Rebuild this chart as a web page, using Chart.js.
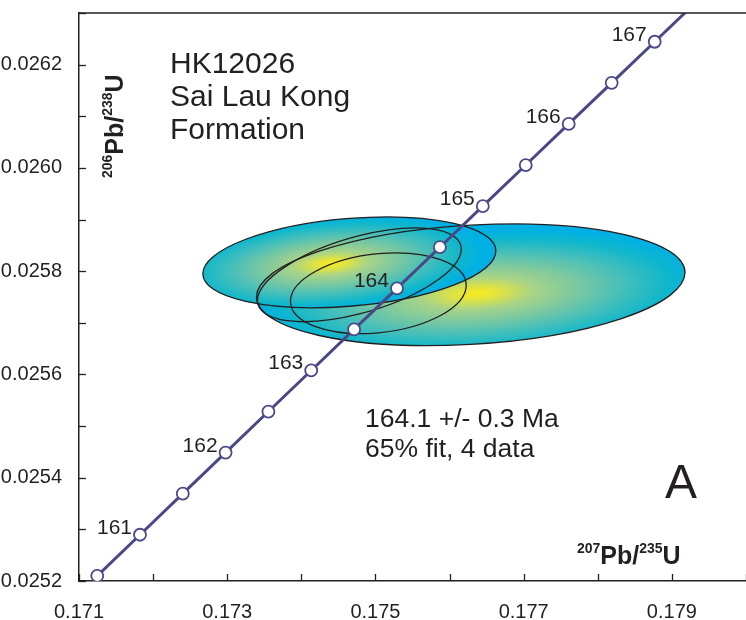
<!DOCTYPE html>
<html><head><meta charset="utf-8">
<script src="https://cdn.jsdelivr.net/npm/chart.js@4.4.1/dist/chart.umd.min.js"></script>
<style>html,body{margin:0;padding:0;background:#fff;}#wrap{width:746px;height:620px;position:relative;}</style>
</head><body><div id="wrap"><canvas id="c"></canvas></div>
<script>
// Concordia curve (207Pb/235U, 206Pb/238U) at marker ages (Ma)
const markerAges = [160.5,161,161.5,162,162.5,163,163.5,164,164.5,165,165.5,166,166.5,167];
const markerX = [0.1712463,0.1718232,0.1724004,0.1729779,0.1735556,0.1741336,0.1747119,0.1752905,0.1758694,0.1764486,0.1770281,0.1776078,0.1781878,0.1787681];
const markerY = [0.02521007,0.02528959,0.02536912,0.02544865,0.02552819,0.02560774,0.02568729,0.02576685,0.02584641,0.02592598,0.02600556,0.02608514,0.02616473,0.02624433];
// curve continues past the last marker to the top of the frame
const curveTailX = [0.1793487];
const curveTailY = [0.02632393];
const labelledAges = [161,162,163,164,165,166,167];

// Error ellipses: centre, half-extent in x and y, correlation, filled?
const ellX   = [0.176286, 0.174648, 0.174783, 0.175039];
const ellY   = [0.0257737, 0.0258172, 0.025793, 0.0257573];
const ellSX  = [0.002891, 0.001977, 0.001375, 0.001186];
const ellSY  = [0.0001178, 0.0000879, 0.0000908, 0.0000782];
const ellRho = [0.2, 0.25, 0.55, 0.2];
const ellFill = [true, true, false, false];

// Axis ticks
const xTickMin = 0.171, xTickMax = 0.180, xStep = 0.001;
const yTickMin = 0.0252, yTickMax = 0.0263, yStep = 0.0001;

const INK = '#231f20';
const CURVE = '#4a4886';
const FONT = '"Liberation Sans", Arial, sans-serif';
// gradient hot-spot offsets (in ellipse unit coords) for the filled ellipses
const hotU = [0.03, -0.13, 0, 0];
const hotV = [-0.15, 0.0, 0, 0];

const lineData = markerX.map((x,i)=>({x, y: markerY[i]})).concat(curveTailX.map((x,i)=>({x, y: curveTailY[i]})));
const pointData = markerX.map((x,i)=>({x, y: markerY[i]}));

function ellipsePath(ctx, xs, ys, i){
  const Cx = xs.getPixelForValue(ellX[i]), Cy = ys.getPixelForValue(ellY[i]);
  const a = xs.getPixelForValue(ellX[i] + ellSX[i]) - Cx;
  const s = Cy - ys.getPixelForValue(ellY[i] + ellSY[i]);
  const r = ellRho[i];
  ctx.beginPath();
  ctx.transform(a, -s*r, 0, -s*Math.sqrt(1-r*r), Cx, Cy);
  ctx.arc(0,0,1,0,Math.PI*2);
  ctx.closePath();
}

const ellipsePlugin = {
  id:'ellipses',
  beforeDatasetsDraw(chart){
    const ctx = chart.ctx, xs = chart.scales.x, ys = chart.scales.y, ca = chart.chartArea;
    ctx.save();
    ctx.beginPath(); ctx.rect(ca.left, ca.top, ca.right-ca.left, ca.bottom-ca.top); ctx.clip();
    for (let i=0;i<ellX.length;i++){
      if(!ellFill[i]) continue;
      ctx.save();
      ellipsePath(ctx, xs, ys, i);
      const g = ctx.createRadialGradient(hotU[i],hotV[i],0,hotU[i],hotV[i],1.05);
      g.addColorStop(0,'#f8ec1e');
      g.addColorStop(0.1,'#e0e340');
      g.addColorStop(0.25,'#a8d487');
      g.addColorStop(0.45,'#7ac8a1');
      g.addColorStop(0.65,'#45bfba');
      g.addColorStop(0.85,'#0fb7cc');
      g.addColorStop(1,'#00b0e4');
      ctx.fillStyle = g; ctx.fill();
      ctx.restore();
    }
    for (let i=0;i<ellX.length;i++){
      ctx.save(); ellipsePath(ctx, xs, ys, i); ctx.restore();
      ctx.lineWidth = 1.3; ctx.strokeStyle = INK; ctx.stroke();
    }
    ctx.restore();
  }
};

function drawSupLabel(ctx, parts){
  let x = 0;
  for (const [t,f,dy] of parts){ ctx.font = f; ctx.fillText(t, x, dy); x += ctx.measureText(t).width; }
}

const annotPlugin = {
  id:'annot',
  afterDraw(chart){
    const ctx = chart.ctx, xs = chart.scales.x, ys = chart.scales.y, ca = chart.chartArea;
    ctx.save();
    ctx.strokeStyle = INK; ctx.lineWidth = 1.5;
    ctx.beginPath(); ctx.moveTo(ca.left, ca.top); ctx.lineTo(ca.right, ca.top); ctx.stroke();
    ctx.lineWidth = 1.3;
    xs.ticks.forEach(t=>{ const px = Math.round(xs.getPixelForValue(t.value))+0.5;
      ctx.beginPath(); ctx.moveTo(px, ca.bottom); ctx.lineTo(px, ca.bottom-7); ctx.stroke(); });
    ys.ticks.forEach(t=>{ const py = Math.round(ys.getPixelForValue(t.value))+0.5;
      ctx.beginPath(); ctx.moveTo(ca.left, py); ctx.lineTo(ca.left+7, py); ctx.stroke(); });
    ctx.fillStyle = INK; ctx.font = '21px '+FONT; ctx.textAlign='right'; ctx.textBaseline='alphabetic';
    labelledAges.forEach(a=>{ const i = markerAges.indexOf(a);
      const px = xs.getPixelForValue(markerX[i]), py = ys.getPixelForValue(markerY[i]);
      ctx.fillText(String(a), px-8, py-1); });
    ctx.textAlign='left';
    ctx.font = '30px '+FONT;
    ctx.fillText('HK12026', 170, 73);
    ctx.fillText('Sai Lau Kong', 170, 106);
    ctx.fillText('Formation', 170, 139);
    ctx.font = '26.5px '+FONT;
    ctx.fillText('164.1 +/- 0.3 Ma', 365, 427);
    ctx.fillText('65% fit, 4 data', 365, 457);
    ctx.font = '48px '+FONT;
    ctx.fillText('A', 665, 498);
    const big = 'bold 25px '+FONT, sm = 'bold 14px '+FONT;
    ctx.save(); ctx.translate(577, 564);
    drawSupLabel(ctx, [['207',sm,-11],['Pb/',big,0],['235',sm,-11],['U',big,0]]);
    ctx.restore();
    ctx.save(); ctx.translate(123, 178); ctx.rotate(-Math.PI/2);
    drawSupLabel(ctx, [['206',sm,-11],['Pb/',big,0],['238',sm,-11],['U',big,0]]);
    ctx.restore();
    ctx.restore();
  }
};

new Chart(document.getElementById('c'), {
  type:'scatter',
  data:{datasets:[
    {type:'line', data: lineData, borderColor: CURVE, borderWidth: 3, pointRadius: 0, fill:false, tension:0, order:2},
    {type:'scatter', data: pointData, pointRadius: 6, pointBorderWidth: 1.8, pointBackgroundColor:'#ffffff', pointBorderColor: CURVE, pointHoverRadius:6, order:1}
  ]},
  options:{
    responsive:true, maintainAspectRatio:false, animation:false,
    layout:{autoPadding:false, padding:{top:13,right:0,left:0,bottom:0}},
    plugins:{legend:{display:false}, tooltip:{enabled:false}},
    scales:{
      x:{type:'linear', min:xTickMin, max:xTickMax,
        afterFit(s){ s.height = 39; s.paddingLeft = 0; s.paddingRight = 0; s.paddingTop = 0; s.paddingBottom = 0; },
        grid:{drawOnChartArea:false, drawTicks:false},
        border:{display:true, color:INK, width:1.5},
        ticks:{stepSize:xStep, autoSkip:false, maxRotation:0, padding:19, color:INK, font:{family:FONT, size:20},
          callback(v){ return Math.round(v*1000)%2===1 ? v.toFixed(3) : ''; }}},
      y:{type:'linear', min:yTickMin, max:yTickMax,
        afterFit(s){ s.width = 79; s.paddingLeft = 0; s.paddingRight = 0; s.paddingTop = 0; s.paddingBottom = 0; },
        grid:{drawOnChartArea:false, drawTicks:false},
        border:{display:true, color:INK, width:1.5},
        ticks:{stepSize:yStep, autoSkip:false, padding:17, color:INK, font:{family:FONT, size:20},
          callback(v){ return Math.round(v*10000)%2===0 ? v.toFixed(4) : ''; }}}
    }
  },
  plugins:[ellipsePlugin, annotPlugin]
});
</script></body></html>
